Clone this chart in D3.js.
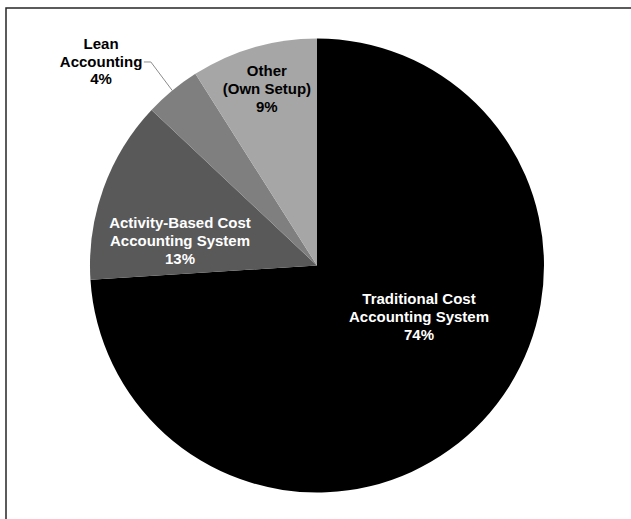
<!DOCTYPE html>
<html>
<head>
<meta charset="utf-8">
<script src="https://cdn.jsdelivr.net/npm/d3@7"></script>
<style>
  html, body { margin: 0; padding: 0; background: #fff; }
  svg { display: block; }
  text { font-family: "Liberation Sans", Arial, sans-serif; font-weight: bold; font-size: 15px; }
</style>
</head>
<body>
<svg id="chart" width="631" height="519"></svg>
<script>
// Cost accounting systems in use (share of respondents, %)
const categories = [
  "Traditional Cost Accounting System",
  "Activity-Based Cost Accounting System",
  "Lean Accounting",
  "Other (Own Setup)"
];
const values = [74, 13, 4, 9];
const labelLines = [
  ["Traditional Cost", "Accounting System", "74%"],
  ["Activity-Based Cost", "Accounting System", "13%"],
  ["Lean", "Accounting", "4%"],
  ["Other", "(Own Setup)", "9%"]
];

// Styling and label placement (polar: radius, angle in degrees clockwise from 12 o'clock)
const fills = ["#000000", "#595959", "#7f7f7f", "#a6a6a6"];
const textFills = ["#ffffff", "#ffffff", "#000000", "#000000"];
const labelPolar = [
  { r: 116.6, a: 119.0 },
  { r: 138.4, a: 278.1 },
  { r: 293.3, a: 312.6 },
  { r: 178.6, a: 343.7 }
];
const lineGap = [18, 18, 17.5, 18];
const leaderFor = 2; // Lean Accounting sits outside the pie

const svg = d3.select("#chart");
const W = 631, H = 519;
const cx = 317, cy = 265.5, R = 227;

// Frame
svg.append("rect")
  .attr("x", 6).attr("y", 8)
  .attr("width", W + 20).attr("height", H + 20)
  .attr("fill", "none")
  .attr("stroke", "#262626")
  .attr("stroke-width", 1.5);

const g = svg.append("g").attr("transform", `translate(${cx},${cy})`);

const pie = d3.pie().sort(null).value(d => d);
const arcs = pie(values);
const arc = d3.arc().innerRadius(0).outerRadius(R);

g.selectAll("path.slice")
  .data(arcs)
  .join("path")
  .attr("class", "slice")
  .attr("d", arc)
  .attr("fill", (d, i) => fills[i]);

const rad = deg => deg * Math.PI / 180;
const anchorPoint = p => d3.arc().innerRadius(p.r).outerRadius(p.r)
  .centroid({ startAngle: rad(p.a), endAngle: rad(p.a) });

const labels = g.selectAll("g.label")
  .data(arcs)
  .join("g")
  .attr("class", "label")
  .attr("transform", (d, i) => {
    const [x, y] = anchorPoint(labelPolar[i]);
    return `translate(${x},${y})`;
  });

labels.each(function (d, i) {
  const t = d3.select(this);
  labelLines[i].forEach((line, k) => {
    t.append("text")
      .attr("class", "line" + k)
      .attr("x", 0)
      .attr("y", (k - 1) * lineGap[i])
      .attr("text-anchor", "middle")
      .attr("fill", textFills[i])
      .text(line);
  });
});

// Leader line from the outside label to its slice
{
  const d = arcs[leaderFor];
  const mid = (d.startAngle + d.endAngle) / 2;
  const edge = d3.arc().innerRadius(R).outerRadius(R).centroid({ startAngle: mid, endAngle: mid });
  const [lx, ly] = anchorPoint(labelPolar[leaderFor]);
  const lineNode = labels.filter((_, i) => i === leaderFor).select("text.line1").node();
  const bb = lineNode.getBBox();
  const x0 = lx + bb.x + bb.width + 1.5;
  const y0 = ly - 5;
  g.append("path")
    .attr("d", d3.line()([[x0, y0], [x0 + 7, y0], edge]))
    .attr("fill", "none")
    .attr("stroke", "#8c8c8c")
    .attr("stroke-width", 1);
}
</script>
</body>
</html>
